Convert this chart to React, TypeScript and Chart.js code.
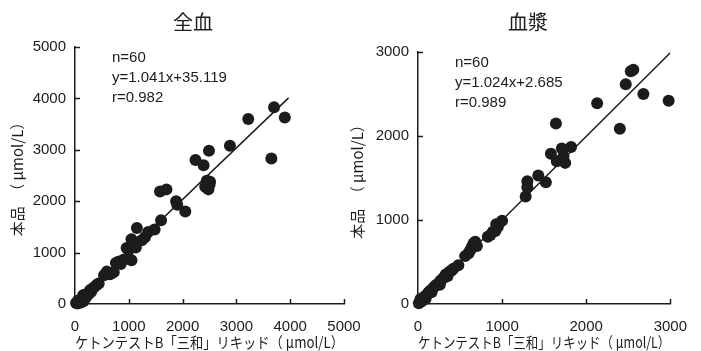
import React, { useEffect, useRef } from 'react';
import { Chart, registerables } from 'chart.js';

Chart.register(...registerables);

// 全血 (whole blood)
const wholeBloodX = [3700, 3900, 3220, 3650, 2880, 2490, 2240, 2390, 1580, 1700, 2450, 2510, 2420, 2480, 1880, 1900, 2050, 1600, 1150, 1360, 1300, 1050, 1100, 1240, 960, 1000, 990, 1050, 900, 805, 850, 760, 590, 680, 650, 540, 400, 440, 350, 280, 300, 230, 180, 150, 200, 130, 100, 60, 80, 40, 20, 50, 110, 160, 170, 250, 1130, 720, 2500, 1480];
const wholeBloodY = [3830, 3630, 3600, 2830, 3080, 2980, 2800, 2700, 2190, 2230, 2400, 2380, 2280, 2230, 2000, 1930, 1800, 1630, 1480, 1400, 1300, 1260, 1200, 1240, 1090, 1050, 900, 850, 860, 820, 780, 800, 630, 600, 580, 560, 370, 400, 320, 270, 240, 200, 180, 170, 120, 100, 80, 70, 40, 30, 20, 10, 30, 60, 140, 190, 1100, 620, 2320, 1450];
const wholeBloodLineX = [0, 3970];
const wholeBloodLineY = [30, 4010];
const wholeBloodStats = ['n=60', 'y=1.041x+35.119', 'r=0.982'];

// 血漿 (plasma)
const plasmaX = [2560, 2530, 2470, 2680, 2980, 2130, 2400, 1640, 1580, 1710, 1820, 1650, 1750, 1430, 1520, 1300, 1300, 1280, 930, 950, 890, 860, 830, 920, 680, 660, 640, 620, 700, 560, 600, 420, 400, 370, 330, 300, 350, 250, 220, 200, 180, 150, 130, 120, 100, 80, 70, 60, 50, 40, 30, 20, 10, 90, 260, 480, 160, 1000, 1730, 270];
const plasmaY = [2790, 2770, 2615, 2500, 2420, 2390, 2085, 2150, 1790, 1850, 1870, 1700, 1680, 1530, 1450, 1460, 1390, 1280, 950, 920, 860, 820, 800, 870, 740, 720, 680, 640, 690, 570, 600, 420, 400, 380, 350, 310, 330, 250, 230, 210, 190, 160, 140, 130, 100, 90, 70, 60, 40, 30, 60, 20, 10, 60, 230, 460, 140, 990, 1760, 280];
const plasmaLineX = [0, 3000];
const plasmaLineY = [3, 2990];
const plasmaStats = ['n=60', 'y=1.024x+2.685', 'r=0.989'];

const X_TITLE = 'ケトンテストB「三和」リキッド（ μmol/L）';
const Y_TITLE = '本品　（ μmol/L）';

const INK = '#1c1c1c';
const NUM_FONT = '"Liberation Sans", Arial, sans-serif';
const JP_FONT = '"Noto Sans CJK JP", "Noto Sans", sans-serif';

type PanelProps = {
  left: number;
  width: number;
  title: string;
  titleX: number;
  xs: number[];
  ys: number[];
  lineX: number[];
  lineY: number[];
  xMax: number;
  yMax: number;
  stats: string[];
  yAxisWidth: number;
  padRight: number;
  padTop: number;
};

function Panel(p: PanelProps) {
  const ref = useRef<HTMLCanvasElement>(null);
  useEffect(() => {
    const canvas = ref.current;
    if (!canvas) return;
    const textPlugin = {
      id: 'panelText',
      afterDraw(chart: any) {
        const { ctx, chartArea } = chart;
        ctx.save();
        ctx.fillStyle = INK;
        ctx.strokeStyle = INK;
        ctx.font = `20px ${JP_FONT}`;
        ctx.textAlign = 'center';
        ctx.textBaseline = 'middle';
        ctx.fillText(p.title, p.titleX, 22);
        ctx.font = `15px ${NUM_FONT}`;
        ctx.textAlign = 'left';
        p.stats.forEach((s, i) => {
          ctx.fillText(s, chartArea.left + 37, chartArea.top + 10.5 + 20 * i);
        });
        // inward tick marks
        ctx.lineWidth = 1.5;
        const xs = chart.scales.x;
        const ys = chart.scales.y;
        ctx.beginPath();
        xs.ticks.forEach((t: any) => {
          if (t.value === 0) return;
          const px = Math.round(xs.getPixelForValue(t.value)) + 0.5;
          ctx.moveTo(px, chartArea.bottom);
          ctx.lineTo(px, chartArea.bottom - 5);
        });
        ys.ticks.forEach((t: any) => {
          if (t.value === 0) return;
          const py = Math.round(ys.getPixelForValue(t.value)) + 0.5;
          ctx.moveTo(chartArea.left, py);
          ctx.lineTo(chartArea.left + 5, py);
        });
        ctx.stroke();
        ctx.restore();
      },
    };

    const chart = new Chart(canvas, {
      type: 'scatter',
      data: {
        datasets: [
          {
            type: 'scatter',
            data: p.xs.map((x, i) => ({ x, y: p.ys[i] })),
            pointRadius: 6,
            pointHoverRadius: 6,
            backgroundColor: INK,
            borderWidth: 0,
            clip: false,
            order: 1,
          } as any,
          {
            type: 'line',
            data: p.lineX.map((x, i) => ({ x, y: p.lineY[i] })),
            borderColor: INK,
            borderWidth: 1.5,
            pointRadius: 0,
            showLine: true,
            fill: false,
            order: 0,
          } as any,
        ],
      },
      options: {
        animation: false,
        responsive: false,
        events: [],
        layout: { padding: { left: 0, right: p.padRight, top: p.padTop, bottom: 0 } },
        plugins: {
          legend: { display: false },
          title: { display: false },
          tooltip: { enabled: false },
        },
        scales: {
          x: {
            type: 'linear',
            min: 0,
            max: p.xMax,
            ticks: {
              stepSize: 1000,
              padding: 14,
              color: INK,
              font: { family: NUM_FONT, size: 15 },
              callback: (v: any) => String(v),
            },
            grid: { display: false, drawTicks: false },
            border: { display: true, color: INK, width: 1.5 },
            title: {
              display: true,
              text: X_TITLE,
              color: INK,
              font: { family: JP_FONT, size: 15 },
              padding: { top: 0, bottom: 0 },
            },
            afterFit: (s: any) => {
              s.height = 47;
            },
          },
          y: {
            type: 'linear',
            min: 0,
            max: p.yMax,
            ticks: {
              stepSize: 1000,
              padding: 9,
              color: INK,
              font: { family: NUM_FONT, size: 15 },
              callback: (v: any) => String(v),
            },
            grid: { display: false, drawTicks: false },
            border: { display: true, color: INK, width: 1.5 },
            title: {
              display: true,
              text: Y_TITLE,
              color: INK,
              font: { family: JP_FONT, size: 15 },
              padding: { top: 8, bottom: 0 },
            },
            afterFit: (s: any) => {
              s.width = p.yAxisWidth;
            },
          },
        },
      } as any,
      plugins: [textPlugin],
    });
    return () => chart.destroy();
  }, []);

  return (
    <canvas
      ref={ref}
      width={p.width}
      height={351}
      style={{ position: 'absolute', left: p.left, top: 0, width: p.width, height: 351, display: 'block' }}
    />
  );
}

export default function App() {
  return (
    <div style={{ position: 'absolute', left: 0, top: 0, width: 701, height: 351, background: '#ffffff', overflow: 'hidden' }}>
      <Panel
        left={0}
        width={380}
        title="全血"
        titleX={193}
        xs={wholeBloodX}
        ys={wholeBloodY}
        lineX={wholeBloodLineX}
        lineY={wholeBloodLineY}
        xMax={5000}
        yMax={5000}
        stats={wholeBloodStats}
        yAxisWidth={75}
        padRight={36}
        padTop={47}
      />
      <Panel
        left={340}
        width={361}
        title="血漿"
        titleX={188}
        xs={plasmaX}
        ys={plasmaY}
        lineX={plasmaLineX}
        lineY={plasmaLineY}
        xMax={3000}
        yMax={3000}
        stats={plasmaStats}
        yAxisWidth={78}
        padRight={16}
        padTop={52}
      />
    </div>
  );
}
